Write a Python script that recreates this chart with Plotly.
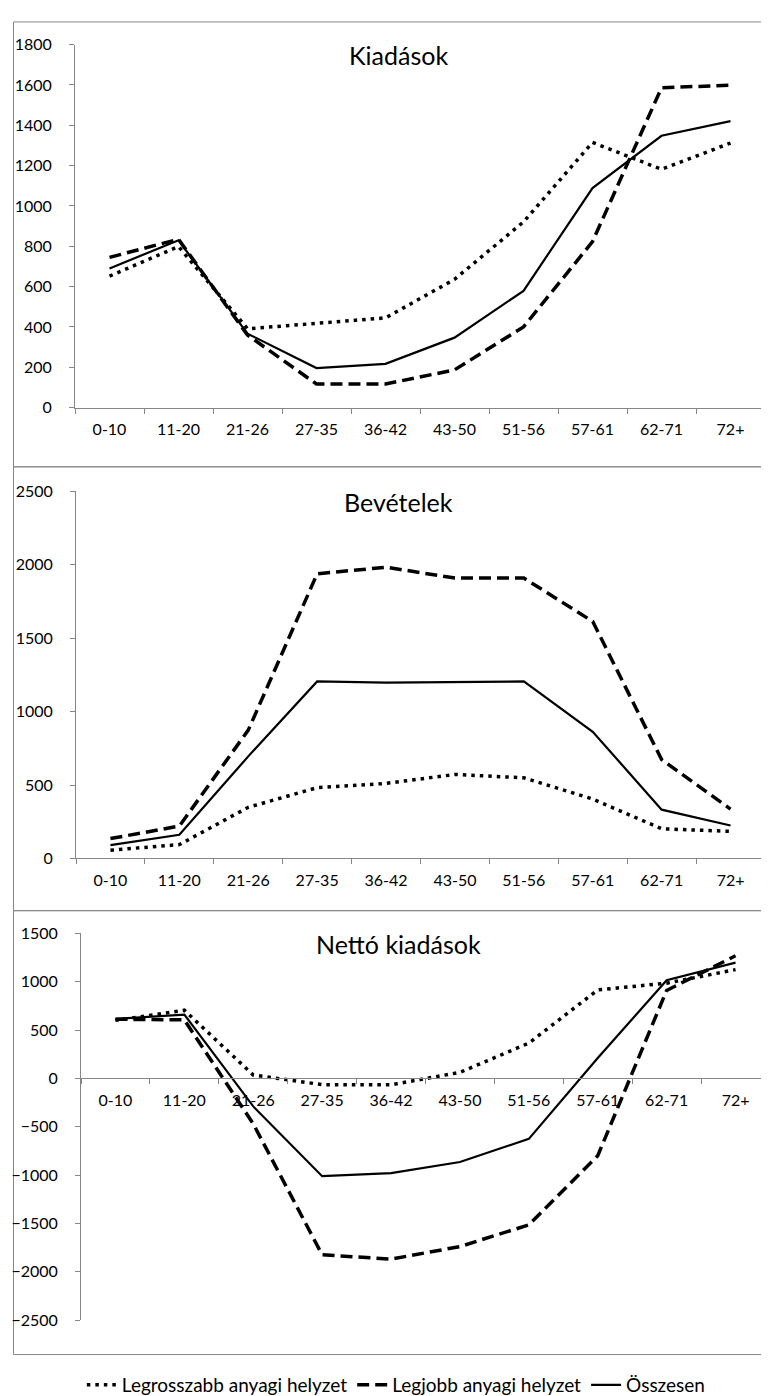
import plotly.graph_objects as go

W, H = 769, 1396

categories = ["0-10", "11-20", "21-26", "27-35", "36-42", "43-50", "51-56", "57-61", "62-71", "72+"]
series_names = ["Legrosszabb anyagi helyzet", "Legjobb anyagi helyzet", "Összesen"]
panel_titles = ["Kiadások", "Bevételek", "Nettó kiadások"]

kiadasok_worst = [652, 799, 391, 419, 445, 636, 921, 1315, 1182, 1312]
kiadasok_best = [745, 835, 360, 117, 117, 187, 400, 823, 1586, 1599]
kiadasok_total = [690, 830, 367, 196, 217, 347, 579, 1089, 1348, 1421]

bevetelek_worst = [56, 94, 348, 482, 511, 572, 549, 404, 202, 184]
bevetelek_best = [135, 220, 874, 1939, 1984, 1910, 1910, 1614, 673, 336]
bevetelek_total = [90, 161, 695, 1206, 1197, 1204, 1206, 863, 332, 224]

netto_worst = [600, 705, 35, -65, -66, 62, 365, 915, 985, 1125]
netto_best = [612, 605, -470, -1825, -1870, -1740, -1515, -800, 910, 1268]
netto_total = [615, 660, -290, -1012, -980, -865, -626, 210, 1016, 1197]

y_ranges = [[0, 1800], [0, 2500], [-2500, 1500]]
y_dticks = [200, 500, 500]

FONT = "Lato"
AXIS_COLOR = "#868686"


def px_y(p):
    return 1 - p / H


def px_x(p):
    return p / W


# layout geometry (pixels)
y_dom_px = [(395, 27), (852, 480), (1320, 928)]
x_dom_px = [(67, 757), (68, 757), (73, 762)]
boxes_px = [(4, 455), (455, 905), (905, 1355)]
title_y_px = [38, 491, 939]

styles = [
    dict(color="black", width=3.5, dash="3.5px,5px"),
    dict(color="black", width=3.5, dash="12px,6px"),
    dict(color="black", width=2.2, dash="solid"),
]

data_sets = [
    [kiadasok_worst, kiadasok_best, kiadasok_total],
    [bevetelek_worst, bevetelek_best, bevetelek_total],
    [netto_worst, netto_best, netto_total],
]

fig = go.Figure()
for p, series in enumerate(data_sets):
    for s, vals in enumerate(series):
        fig.add_trace(go.Scatter(
            x=categories, y=vals, mode="lines", name=series_names[s],
            line=styles[s], showlegend=(p == 0),
            xaxis="x" if p == 0 else f"x{p+1}",
            yaxis="y" if p == 0 else f"y{p+1}",
        ))

layout = dict(
    width=W, height=H,
    margin=dict(l=0, r=0, t=0, b=0),
    paper_bgcolor="white", plot_bgcolor="white",
    font=dict(family=FONT, color="black", size=16),
    legend=dict(orientation="h", x=0.505, xanchor="center", y=px_y(1386), yanchor="middle",
                font=dict(size=19, family=FONT, color="black"), bgcolor="rgba(0,0,0,0)",
                itemwidth=30, tracegroupgap=0),
    shapes=[], annotations=[],
)

for p in range(3):
    xk = "xaxis" if p == 0 else f"xaxis{p+1}"
    yk = "yaxis" if p == 0 else f"yaxis{p+1}"
    ya = "y" if p == 0 else f"y{p+1}"
    xa = "x" if p == 0 else f"x{p+1}"
    y0p, y1p = y_dom_px[p]
    ydom = [px_y(y0p), px_y(y1p)]
    xax = dict(
        domain=[px_x(x_dom_px[p][0]), px_x(x_dom_px[p][1])],
        type="category", categoryorder="array", categoryarray=categories,
        range=[-0.5, len(categories) - 0.5],
        showline=True, linecolor=AXIS_COLOR, linewidth=1,
        ticks="outside", ticklen=5, tickcolor=AXIS_COLOR, tickson="boundaries",
        showgrid=False, zeroline=False, ticklabelstandoff=7,
        tickfont=dict(size=16, family=FONT, color="black"),
    )
    if p == 2:
        lo, hi = y_ranges[p]
        zero_frac = ydom[0] + (0 - lo) / (hi - lo) * (ydom[1] - ydom[0])
        xax.update(anchor="free", position=zero_frac)
    else:
        xax.update(anchor=ya)
    layout[xk] = xax
    layout[yk] = dict(
        domain=ydom, range=y_ranges[p], dtick=y_dticks[p], tick0=0,
        anchor=xa, showline=True, linecolor=AXIS_COLOR, linewidth=1,
        ticks="outside", ticklen=5, tickcolor=AXIS_COLOR,
        showgrid=False, zeroline=False, ticklabelstandoff=14,
        tickfont=dict(size=16, family=FONT, color="black"),
    )
    b0, b1 = boxes_px[p]
    layout["shapes"].append(dict(
        type="rect", xref="paper", yref="paper",
        x0=px_x(5.5), x1=1.01, y0=px_y(b1), y1=px_y(b0),
        line=dict(color=AXIS_COLOR, width=1), fillcolor="rgba(0,0,0,0)", layer="below",
    ))
    layout["annotations"].append(dict(
        text=panel_titles[p], xref="paper", yref="paper",
        x=px_x(390), y=px_y(title_y_px[p]), xanchor="center", yanchor="middle",
        showarrow=False, font=dict(size=25, family=FONT, color="black"),
    ))

fig.update_layout(**layout)
fig.write_html("out.html")
